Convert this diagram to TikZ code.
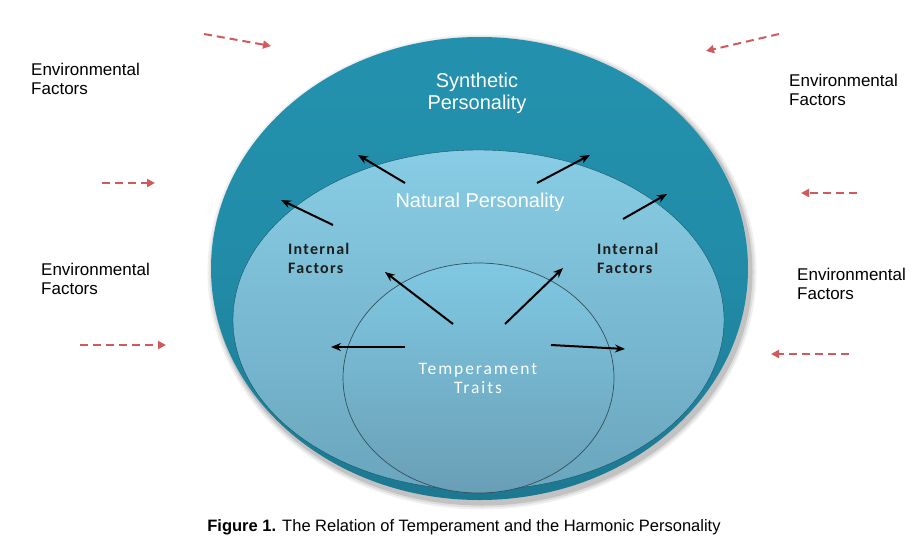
\documentclass[tikz,border=0pt]{standalone}
\usepackage{fontspec}
\setmainfont{Liberation Sans}
\newfontfamily\calfont{Carlito}[LetterSpace=8]
\newfontfamily\calwide{Carlito}[LetterSpace=11]
\usetikzlibrary{arrows.meta,shapes.geometric}
\definecolor{envred}{HTML}{D05A5C}
\definecolor{outtop}{HTML}{2391AE}
\definecolor{outbot}{HTML}{1C7890}
\definecolor{midtop}{HTML}{88CDE5}
\definecolor{midbot}{HTML}{6AA6BE}
\definecolor{inntop}{HTML}{80C8E2}
\definecolor{innbot}{HTML}{699FB6}
\definecolor{txtdark}{HTML}{1E1E1E}
\tikzset{
  envtext/.style={align=left, anchor=north west, inner sep=0pt, font=\fontsize{17}{18.5}\selectfont, text=black},
  whitetext/.style={align=center, inner sep=0pt, text=white, font=\fontsize{20}{22}\selectfont},
  inttext/.style={align=left, inner sep=0pt, text=txtdark, font=\calfont\bfseries\fontsize{16}{19}\selectfont},
  redarrow/.style={draw=envred, line width=2pt, dash pattern=on 8pt off 5pt, -{Triangle[length=8pt,width=8pt]}},
  blkarrow/.style={draw=black, line width=2pt, -{Stealth[length=10pt,width=8pt]}},
  blob/.style={ellipse, inner sep=0pt, draw=none}
}
\begin{document}
\begin{tikzpicture}[x=1pt,y=-1pt]
\useasboundingbox[fill=white] (0,0) rectangle (918,544);
% shadow
\foreach \k/\op in {6/0.06,4/0.08,2/0.12}{
  \fill[black,opacity=\op] (482,272) ellipse ({268.5+\k} and {231.5+\k});
}
% outer ellipse
\node[blob, minimum width=537pt, minimum height=463pt, top color=outtop, bottom color=outbot, middle color=outtop!80!outbot] (outer) at (479.5,268.5) {};
% middle ellipse
\node[blob, minimum width=491pt, minimum height=340pt, top color=midtop, bottom color=midbot, draw=outbot!70!black, line width=0.4pt] (mid) at (478.5,320) {};
% inner circle
\node[blob, minimum width=271pt, minimum height=230pt, top color=inntop, bottom color=innbot, draw=black!50!innbot, line width=0.7pt] (inner) at (478.5,378) {};

% texts
\node[whitetext] (syn) at (477,93) {Synthetic\\Personality};
\node[whitetext] (nat) at (480,202) {Natural Personality};
\node[inttext, anchor=west] (intl) at (288,258) {Internal\\Factors};
\node[inttext, anchor=west] (intr) at (597,258) {Internal\\Factors};
\node[align=center, inner sep=0pt, text=white, font=\calwide\fontsize{17.5}{19}\selectfont] (temp) at (478,378) {Temperament\\Traits};

\node[envtext] (env1) at (31,63) {Environmental\\Factors};
\node[envtext] (env2) at (789,74) {Environmental\\Factors};
\node[envtext] (env3) at (41,263) {Environmental\\Factors};
\node[envtext] (env4) at (797,268) {Environmental\\Factors};

\node[inner sep=0pt, font=\fontsize{16.5}{18}\selectfont] (cap) at (464,527) {\textbf{Figure 1.} The Relation of Temperament and the Harmonic Personality};

% black arrow coordinates
\coordinate (a1s) at (405,183); \coordinate (a1e) at (358,155);
\coordinate (a2s) at (537,183); \coordinate (a2e) at (590,155);
\coordinate (a3s) at (333,225); \coordinate (a3e) at (281,200);
\coordinate (a4s) at (623,219); \coordinate (a4e) at (667,194);
\coordinate (a5s) at (453,324); \coordinate (a5e) at (385,272);
\coordinate (a6s) at (505,324); \coordinate (a6e) at (563,268);
\coordinate (a7s) at (405,347); \coordinate (a7e) at (331,347);
\coordinate (a8s) at (551,345); \coordinate (a8e) at (625,349);
\foreach \i in {1,...,8}{ \draw[blkarrow] (a\i s) -- (a\i e); }

% red dashed arrows
\coordinate (r1s) at (204,34);  \coordinate (r1e) at (271,46);
\coordinate (r2s) at (779,34);  \coordinate (r2e) at (706,51);
\coordinate (r3s) at (102,183); \coordinate (r3e) at (155,183);
\coordinate (r4s) at (857,193); \coordinate (r4e) at (801,193);
\coordinate (r5s) at (80,345);  \coordinate (r5e) at (166,345);
\coordinate (r6s) at (849,354); \coordinate (r6e) at (771,354);
\foreach \i in {1,...,6}{ \draw[redarrow] (r\i s) -- (r\i e); }
\end{tikzpicture}
\end{document}
